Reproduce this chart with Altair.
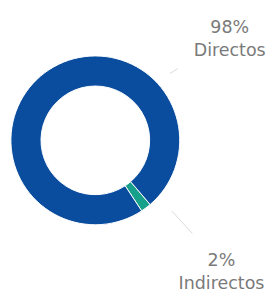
import math
import altair as alt
import pandas as pd

categories = ["Indirectos", "Directos"]
values = [2, 98]
colors = ["#17A08A", "#0A4C9E"]

df = pd.DataFrame({"category": categories, "value": values, "order": [0, 1]})
df["pct"] = df["value"].astype(str) + "%"

start = math.radians(139.5)
base = alt.Chart(df)

donut = base.mark_arc(radius=87, radius2=56, stroke="white", strokeWidth=1).encode(
    theta=alt.Theta("value:Q", stack=True,
                    scale=alt.Scale(range=[start, start + 2 * math.pi])),
    color=alt.Color("category:N", scale=alt.Scale(domain=categories, range=colors), legend=None),
    order=alt.Order("order:Q"),
    x=alt.value(90),
    y=alt.value(132),
)

FONT = "DejaVu Sans"
GRAY = "#7a7a7a"


def label(cat, x, y1, y2, lx1, ly1, lx2, ly2):
    sub = base.transform_filter(alt.datum.category == cat)
    t1 = sub.mark_text(font=FONT, fontSize=18, color=GRAY, align="center",
                       baseline="alphabetic").encode(
        text="pct:N", x=alt.value(x), y=alt.value(y1))
    t2 = sub.mark_text(font=FONT, fontSize=18, color=GRAY, align="center",
                       baseline="alphabetic").encode(
        text="category:N", x=alt.value(x), y=alt.value(y2))
    ln = sub.mark_rule(color="#d9d9d9", strokeWidth=1).encode(
        x=alt.value(lx1), y=alt.value(ly1), x2=alt.value(lx2), y2=alt.value(ly2))
    return [ln, t1, t2]


layers = [donut]
layers += label("Directos", 228.5, 21, 45, 167, 63, 175, 58)
layers += label("Indirectos", 220, 262, 285, 169, 205, 190, 228)

chart = alt.layer(*layers).properties(
    width=269, height=287, padding=0, autosize="none"
).configure_view(stroke=None)

chart.save("out.html", embed_options={"renderer": "svg", "actions": False})
